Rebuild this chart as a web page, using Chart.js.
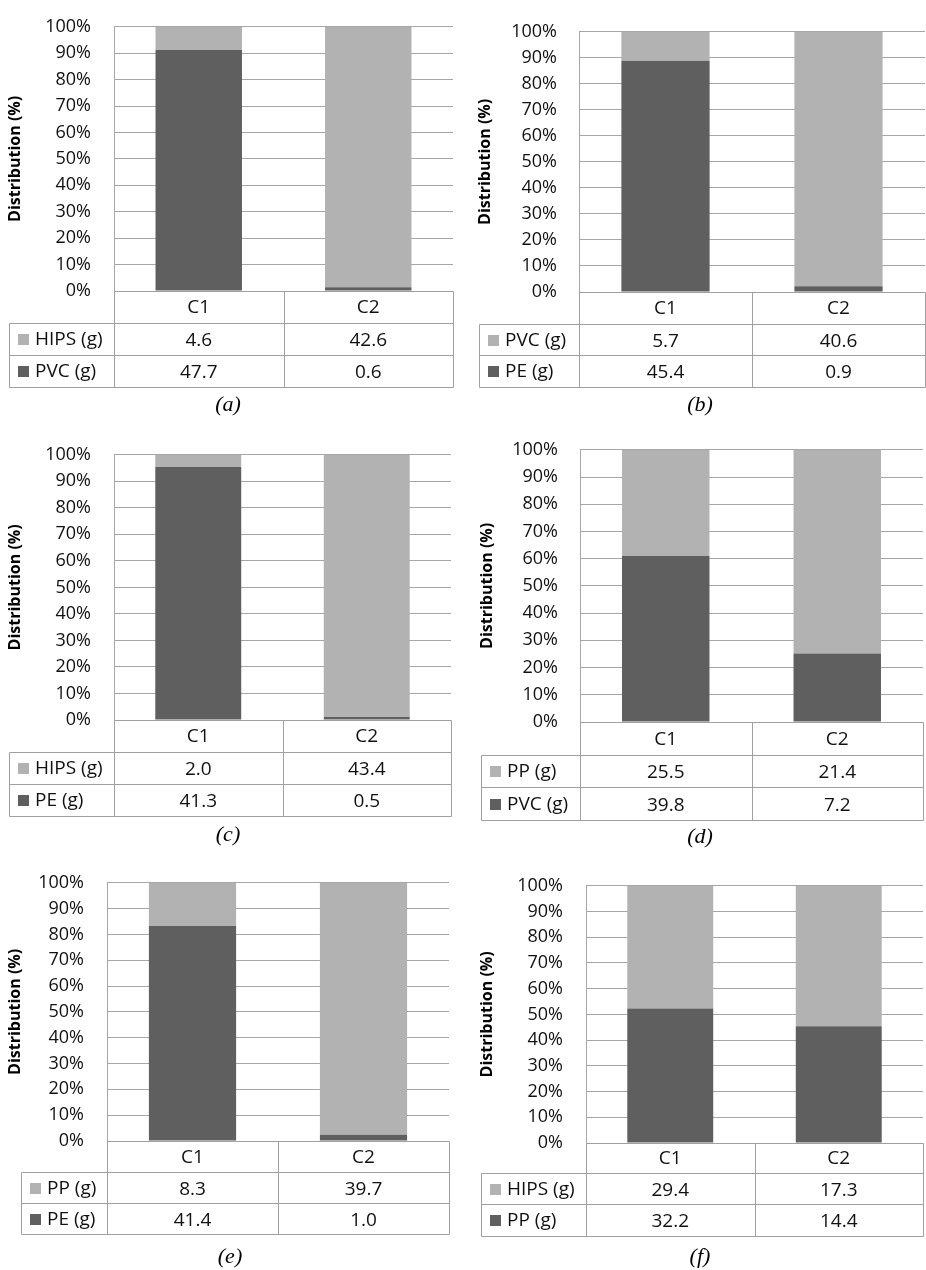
<!DOCTYPE html>
<html><head><meta charset="utf-8">
<script src="https://cdn.jsdelivr.net/npm/chart.js@4"></script>
<style>
html,body{margin:0;padding:0;background:#fff;}
#page{position:relative;width:926px;height:1270px;overflow:hidden;background:#fff;}
canvas{position:absolute;}
</style></head><body><div id="page"></div>
<script>
// ---- data ----
const categories = ['C1', 'C2'];
const tickLabels = ['0%','10%','20%','30%','40%','50%','60%','70%','80%','90%','100%'];
const panelLabels = ['(a)', '(b)', '(c)', '(d)', '(e)', '(f)'];
const lightNames = ['HIPS (g)', 'PVC (g)', 'HIPS (g)', 'PP (g)', 'PP (g)', 'HIPS (g)'];
const darkNames  = ['PVC (g)', 'PE (g)', 'PE (g)', 'PVC (g)', 'PE (g)', 'PP (g)'];
const lightA = [4.6, 42.6];  const darkA = [47.7, 0.6];
const lightB = [5.7, 40.6];  const darkB = [45.4, 0.9];
const lightC = [2.0, 43.4];  const darkC = [41.3, 0.5];
const lightD = [25.5, 21.4]; const darkD = [39.8, 7.2];
const lightE = [8.3, 39.7];  const darkE = [41.4, 1.0];
const lightF = [29.4, 17.3]; const darkF = [32.2, 14.4];
const lightSeries = [lightA, lightB, lightC, lightD, lightE, lightF];
const darkSeries  = [darkA, darkB, darkC, darkD, darkE, darkF];
const yAxisTitle = 'Distribution (%)';

// ---- layout (page pixels) ----
const frames = [
  {px:0,   plotL:114, plotR:453, plotT:13,  plotB:291,  rows:[291,323,355,387],    tableL:9,   titleX:15,  tickR:91,  capX:228, capY:405},
  {px:460, plotL:579, plotR:925, plotT:19,  plotB:292,  rows:[292,324,355,387],    tableL:479, titleX:485, tickR:557, capX:700, capY:405},
  {px:0,   plotL:114, plotR:451, plotT:441, plotB:720,  rows:[720,752,784,816],    tableL:9,   titleX:15,  tickR:91,  capX:228, capY:835},
  {px:460, plotL:580, plotR:923, plotT:437, plotB:722,  rows:[722,755,787,820],    tableL:481, titleX:487, tickR:558, capX:700, capY:837},
  {px:0,   plotL:107, plotR:449, plotT:869, plotB:1141, rows:[1141,1172,1203,1234],tableL:21,  titleX:15,  tickR:84,  capX:230, capY:1257},
  {px:460, plotL:586, plotR:923, plotT:872, plotB:1143, rows:[1143,1173,1204,1236],tableL:481, titleX:487, tickR:563, capX:700, capY:1257}
];

const DARK = '#5f5f5f', LIGHT = '#b2b2b2', GRID = '#a6a6a6', BORDER = '#a0a0a0', TEXT = '#111';
const SANS = '"Open Sans", "Liberation Sans", sans-serif';
const page = document.getElementById('page');

function pct(a, b) { return a.map((v, i) => v / (a[i] + b[i]) * 100); }

const tablePlugin = {
  id: 'dataTable',
  afterDraw(chart, args, opts) {
    const f = opts.frame, ctx = chart.ctx, ox = opts.ox, oy = opts.oy;
    const xs = chart.scales.x;
    const c0 = xs.getPixelForValue(0), c1 = xs.getPixelForValue(1);
    const mid = (c0 + c1) / 2;
    const L = f.plotL - ox, R = f.plotR - ox, TL = f.tableL - ox;
    const r = f.rows.map(y => y - oy);
    const a = v => Math.round(v) + 0.5;
    ctx.save();
    ctx.strokeStyle = BORDER; ctx.lineWidth = 1;
    ctx.beginPath();
    [L, mid, R].forEach(x => { ctx.moveTo(a(x), a(r[0])); ctx.lineTo(a(x), a(r[3])); });
    ctx.moveTo(a(TL), a(r[1])); ctx.lineTo(a(TL), a(r[3]));
    ctx.moveTo(a(L), a(r[0])); ctx.lineTo(a(R), a(r[0]));
    [1, 2, 3].forEach(k => { ctx.moveTo(a(TL), a(r[k])); ctx.lineTo(a(R), a(r[k])); });
    ctx.stroke();
    ctx.fillStyle = TEXT;
    ctx.font = '19px ' + SANS;
    ctx.textBaseline = 'middle';
    ctx.textAlign = 'center';
    categories.forEach((c, i) => ctx.fillText(c, xs.getPixelForValue(i), (r[0] + r[1]) / 2 + 1));
    const rowsDef = [
      {name: opts.lightName, color: LIGHT, vals: opts.light, y: (r[1] + r[2]) / 2 + 1},
      {name: opts.darkName, color: DARK, vals: opts.dark, y: (r[2] + r[3]) / 2 + 1}
    ];
    rowsDef.forEach(rd => {
      ctx.fillStyle = rd.color;
      ctx.fillRect(TL + 9, Math.round(rd.y - 6), 11, 11);
      ctx.fillStyle = TEXT;
      ctx.textAlign = 'left';
      ctx.fillText(rd.name, TL + 26, rd.y);
      ctx.textAlign = 'center';
      rd.vals.forEach((v, i) => ctx.fillText(v.toFixed(1), xs.getPixelForValue(i), rd.y + 1));
    });
    ctx.font = 'italic 22px "Liberation Serif", "DejaVu Serif", serif';
    ctx.fillStyle = '#000';
    ctx.fillText(opts.caption, f.capX - ox, f.capY - oy);
    ctx.restore();
  }
};

frames.forEach((f, idx) => {
  const top = f.plotT - 20;
  const bottom = f.capY + 20;
  const width = f.plotR - f.px + 3;
  const height = bottom - top;
  const cv = document.createElement('canvas');
  cv.width = width; cv.height = height;
  cv.style.left = f.px + 'px'; cv.style.top = top + 'px';
  cv.style.width = width + 'px'; cv.style.height = height + 'px';
  page.appendChild(cv);
  const light = lightSeries[idx], dark = darkSeries[idx];
  const yWidth = f.plotL - f.px;
  const titleFont = 16, titleLH = 1.2;
  new Chart(cv.getContext('2d'), {
    type: 'bar',
    data: {
      labels: categories,
      datasets: [
        {label: darkNames[idx], data: pct(dark, light), backgroundColor: DARK, barPercentage: 1, categoryPercentage: 0.51},
        {label: lightNames[idx], data: pct(light, dark), backgroundColor: LIGHT, barPercentage: 1, categoryPercentage: 0.51}
      ]
    },
    options: {
      responsive: false, animation: false, devicePixelRatio: 1,
      layout: {padding: {left: 0, top: 20, right: width - (f.plotR - f.px), bottom: bottom - f.plotB}},
      plugins: {
        legend: {display: false}, tooltip: {enabled: false},
        dataTable: {frame: f, ox: f.px, oy: top, light, dark, lightName: lightNames[idx], darkName: darkNames[idx], caption: panelLabels[idx]}
      },
      scales: {
        x: {display: false, stacked: true},
        y: {
          stacked: true, min: 0, max: 100,
          afterFit: s => { s.width = yWidth; },
          ticks: {stepSize: 10, padding: f.plotL - f.tickR, color: TEXT, font: {family: SANS, size: 18},
                  callback: (v, i) => tickLabels[i]},
          grid: {color: GRID, lineWidth: 1, drawTicks: false},
          border: {display: true, color: GRID, width: 1},
          title: {display: true, text: yAxisTitle, color: '#000',
                  font: {family: SANS, size: titleFont, weight: 'bold', lineHeight: titleLH},
                  padding: {top: Math.max(0, f.titleX - f.px - titleFont * titleLH / 2), bottom: 0}}
        }
      }
    },
    plugins: [tablePlugin]
  });
});
</script>
</body></html>
